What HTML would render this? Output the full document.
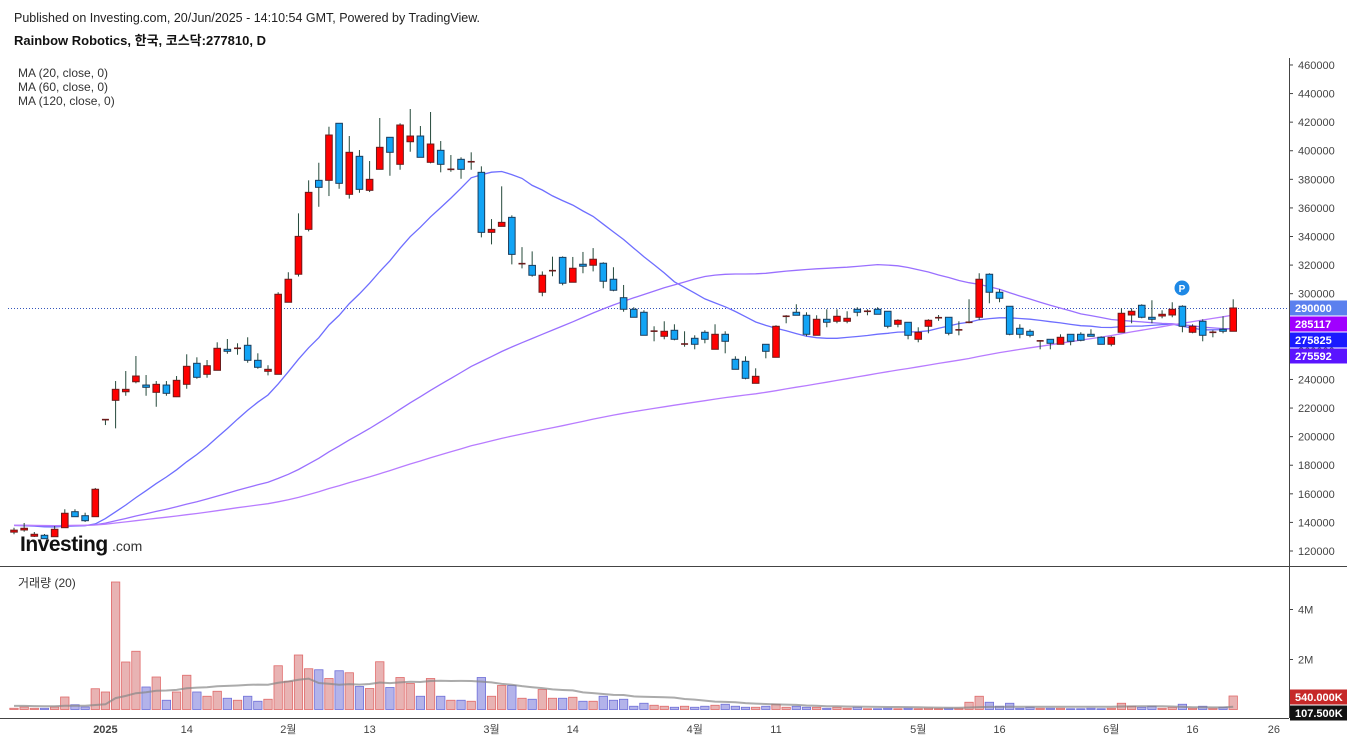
<!DOCTYPE html>
<html><head><meta charset="utf-8">
<style>
html,body{margin:0;padding:0;background:#fff;}
body{width:1355px;height:743px;overflow:hidden;font-family:"Liberation Sans","Noto Sans CJK KR",sans-serif;}
svg text{font-family:"Liberation Sans","Noto Sans CJK KR",sans-serif;}
</style></head>
<body>
<svg id="chart" width="1355" height="743" viewBox="0 0 1355 743" xmlns="http://www.w3.org/2000/svg">
  <text x="14" y="22" font-size="12.5" fill="#222">Published on Investing.com, 20/Jun/2025 - 14:10:54 GMT, Powered by TradingView.</text>
  <text x="14" y="45" font-size="13" font-weight="bold" fill="#111">Rainbow Robotics, 한국, 코스닥:277810, D</text>
  <text x="18" y="77" font-size="12" fill="#333">MA (20, close, 0)</text>
  <text x="18" y="91" font-size="12" fill="#333">MA (60, close, 0)</text>
  <text x="18" y="105" font-size="12" fill="#333">MA (120, close, 0)</text>
  <text x="18" y="587" font-size="12" fill="#333">거래량 (20)</text>
  <g>
    <text x="20" y="551" font-size="21" font-weight="bold" fill="#111" letter-spacing="-0.5">Investing</text>
    <text x="112" y="551" font-size="14" fill="#333">.com</text>
  </g>
  <line x1="0" y1="566.5" x2="1347" y2="566.5" stroke="#444" stroke-width="1"/>
  <line x1="0" y1="718.5" x2="1289" y2="718.5" stroke="#444" stroke-width="1"/>
  <line x1="1289.5" y1="58" x2="1289.5" y2="718" stroke="#444" stroke-width="1"/>
  <g id="grid"></g>
  <g id="vol"></g>
  <g id="mas"></g>
  <g id="candles"></g>
  <g id="axes"></g>
  <g id="badges"></g>
  <g>
    <circle cx="1182" cy="288" r="7.5" fill="#1e88e5"/>
    <text x="1182" y="292" font-size="10" font-weight="bold" fill="#fff" text-anchor="middle">P</text>
  </g>
</svg>
<script>
const opens=[133.2,134.7,130.3,131.0,130.0,136.3,147.5,144.7,144.0,211.2,225.4,231.4,238.4,236.1,231.0,236.1,227.9,236.6,251.3,243.6,246.4,261.1,261.5,263.9,253.4,245.7,243.6,294.0,313.6,345.0,379.3,379.3,419.2,369.5,396.1,372.3,387.0,409.4,390.5,406.3,410.3,391.9,400.3,386.8,394.0,392.1,384.9,342.9,347.1,353.4,320.8,319.8,301.0,315.9,325.4,308.0,320.6,319.9,321.3,310.1,297.2,289.1,287.0,273.6,270.2,274.4,264.6,268.8,273.0,261.1,271.6,254.1,252.7,237.3,264.6,255.5,284.0,287.0,284.9,270.9,282.1,280.7,280.7,289.1,287.6,289.1,287.7,278.6,280.0,268.1,277.2,283.0,283.5,274.5,279.8,283.5,313.6,301.0,291.2,275.8,273.7,266.8,268.1,264.6,271.6,271.6,271.6,269.5,264.6,273.0,285.1,291.9,283.5,284.4,285.1,291.2,273.0,280.7,272.8,275.1,273.7];
const highs=[136.3,139.6,133.3,131.9,137.5,149.2,149.2,146.8,164.1,212.0,238.9,245.9,256.4,243.1,238.9,238.9,242.4,257.6,255.5,253.6,266.0,268.3,265.3,269.5,258.3,249.9,301.0,315.0,356.2,379.3,391.6,416.8,419.2,410.3,400.5,392.8,422.9,409.4,419.2,429.2,417.3,427.1,406.8,397.0,395.4,398.9,389.1,352.2,375.1,354.8,332.6,329.6,315.6,325.9,326.1,325.7,329.2,331.9,322.0,318.5,306.1,290.5,288.4,277.2,280.7,278.6,273.7,270.9,274.4,278.6,273.7,256.2,256.2,247.8,264.6,277.9,285.0,292.6,287.0,284.9,289.1,289.1,287.7,290.5,289.1,290.5,287.7,282.1,280.0,276.5,282.1,285.1,283.5,280.7,296.1,314.3,314.3,303.1,291.2,278.6,275.1,267.6,268.1,271.6,271.6,273.0,275.1,270.2,270.2,289.8,289.8,292.6,295.4,288.4,294.0,291.9,278.6,282.1,274.4,284.2,296.1];
const lows=[131.7,133.5,129.8,128.4,129.8,136.1,143.8,140.3,143.8,208.1,205.8,228.6,237.3,228.6,220.9,228.6,227.7,233.5,240.5,241.2,246.4,258.0,257.3,251.7,247.5,242.9,243.6,294.0,312.0,343.6,360.8,368.3,373.4,366.5,370.6,371.1,387.0,382.5,386.7,399.3,395.4,391.2,384.9,385.3,380.4,386.7,339.4,334.5,347.1,320.5,317.7,311.9,298.2,312.2,305.9,308.0,314.3,315.6,303.8,301.7,287.4,283.5,270.9,266.7,268.1,267.4,262.9,261.1,265.3,261.1,258.3,247.1,240.1,237.3,254.8,255.5,279.3,284.9,270.2,270.9,276.5,279.3,279.3,284.2,284.9,285.6,275.8,276.5,268.1,266.0,272.3,281.0,270.9,270.9,279.3,281.6,293.3,294.0,270.9,268.8,269.5,261.1,261.1,264.6,263.9,266.7,270.2,264.6,263.2,273.0,279.3,282.8,279.3,282.8,283.5,273.0,272.3,266.7,269.5,272.3,273.7];
const closes=[134.6,135.9,131.7,128.6,135.2,146.4,144.0,141.2,163.2,211.9,233.1,233.1,242.4,234.5,236.6,230.3,239.4,249.2,241.5,249.6,261.8,259.7,261.8,253.4,248.5,247.1,299.6,310.1,340.1,370.9,374.4,411.0,377.2,398.9,373.0,380.0,402.4,398.9,418.0,410.3,395.4,404.7,390.5,387.0,387.0,392.3,342.9,345.0,349.9,327.5,321.0,312.9,312.9,316.1,307.3,317.8,319.2,324.1,308.7,302.4,289.1,283.5,270.9,273.8,273.7,268.1,264.8,264.6,268.1,271.6,266.7,247.1,240.8,242.2,259.7,277.2,284.2,284.9,271.6,282.1,280.0,284.2,282.8,287.0,287.7,285.6,277.2,281.4,270.9,273.0,281.4,283.2,272.3,274.7,280.0,310.1,301.0,296.8,271.6,271.6,270.9,267.0,265.3,269.5,266.7,267.4,270.2,264.6,269.5,286.3,287.7,283.5,282.1,285.6,289.1,277.2,277.2,270.9,273.0,273.7,290.0];
const volumes=[0.05,0.1,0.05,0.05,0.1,0.5,0.19,0.1,0.83,0.7,5.1,1.9,2.33,0.9,1.3,0.37,0.7,1.37,0.7,0.53,0.73,0.45,0.37,0.53,0.33,0.41,1.75,1.13,2.18,1.63,1.59,1.24,1.55,1.47,0.92,0.84,1.91,0.88,1.28,1.04,0.53,1.24,0.53,0.37,0.37,0.33,1.28,0.53,0.96,0.96,0.45,0.41,0.8,0.45,0.45,0.49,0.33,0.33,0.53,0.37,0.41,0.13,0.25,0.17,0.13,0.09,0.13,0.09,0.13,0.17,0.21,0.13,0.09,0.09,0.13,0.21,0.09,0.13,0.09,0.09,0.05,0.09,0.05,0.09,0.03,0.03,0.05,0.03,0.05,0.03,0.05,0.03,0.05,0.05,0.29,0.53,0.29,0.13,0.25,0.05,0.09,0.05,0.05,0.05,0.03,0.03,0.05,0.03,0.05,0.25,0.13,0.09,0.13,0.05,0.09,0.21,0.05,0.13,0.05,0.09,0.54];
const priorClose=138;   // price level (thousands) before the visible window
const priorVolume=0.15; // volume level (M) before the visible window
const priceTicks=[120000,140000,160000,180000,200000,220000,240000,260000,280000,300000,320000,340000,360000,380000,400000,420000,440000,460000];
const volTicks=[2,4];
const volTickLabels=['2M','4M'];
const dateIdx=[9,17,27,35,47,55,67,75,89,97,108,116,124];
const dateLabels=['2025','14','2월','13','3월','14','4월','11','5월','16','6월','16','26'];
const maPeriods=[20,60,120];

const NS='http://www.w3.org/2000/svg';
function mk(tag,attrs,parent){const e=document.createElementNS(NS,tag);for(const k in attrs)e.setAttribute(k,attrs[k]);parent.appendChild(e);return e;}
const xOf=i=>14+i*10.16;
const yP=p=>551-(p-120000)/20000*28.59;
const yV=v=>709.5-v*25;

const axes=document.getElementById('axes');
priceTicks.forEach(t=>{
  const y=yP(t);
  const tk=mk('line',{x1:1289,y1:y,x2:1293,y2:y,stroke:'#444'},axes);
  
  
  const tx=mk('text',{x:1298,y:y+4,'font-size':11,fill:'#444'},axes);
  
  
  tx.textContent=String(t);
});
volTicks.forEach((t,k)=>{
  const y=yV(t);
  mk('line',{x1:1289,y1:y,x2:1293,y2:y,stroke:'#444'},axes);
  const tx=mk('text',{x:1298,y:y+4,'font-size':11,fill:'#444'},axes);
  
  
  tx.textContent=volTickLabels[k];
});
dateIdx.forEach((i,k)=>{
  const tx=mk('text',{x:xOf(i),y:733,'font-size':11,fill:'#444','text-anchor':'middle','font-weight':k===0?'bold':'normal'},axes);
  
  
  tx.textContent=dateLabels[k];
});

// current price dotted line
const grid=document.getElementById('grid');
const last=closes[closes.length-1]*1000;
const pl=mk('line',{x1:8,y1:yP(last)+0.5,x2:1289,y2:yP(last)+0.5,stroke:'#3355bb','stroke-dasharray':'1,2','stroke-width':1},grid);



// moving averages
function ma(arr,n,pad){return arr.map((_,i)=>{let s=0;for(let k=i-n+1;k<=i;k++)s+=k<0?pad:arr[k];return s/n;});}
const maColors=['#6e6eff','#9a70ff','#b87cff'];
const maBadge=['#1a1aff','#5a14ff','#a000ff'];
const mas=document.getElementById('mas');
const maLast=[];
maPeriods.forEach((n,k)=>{
  const v=ma(closes,n,priorClose);
  maLast.push(v[v.length-1]);
  const pts=v.map((p,i)=>xOf(i).toFixed(1)+','+yP(p*1000).toFixed(1)).join(' ');
  const pl=mk('polyline',{points:pts,fill:'none',stroke:maColors[k],'stroke-width':1.3},mas);
  
  
});

// volume
const vol=document.getElementById('vol');
volumes.forEach((v,i)=>{
  const up=closes[i]>=opens[i];
  const r=mk('rect',{x:xOf(i)-4.2,y:yV(v),width:8.4,height:Math.max(0.5,709.5-yV(v)),fill:up?'#e8b3b3':'#b3b3ea',stroke:up?'#e06a6a':'#6e6ed8','stroke-width':0.8},vol);
  
  
});
const vma=ma(volumes,20,priorVolume);
const vpl=mk('polyline',{points:vma.map((p,i)=>xOf(i).toFixed(1)+','+yV(p).toFixed(1)).join(' '),fill:'none',stroke:'#888','stroke-opacity':0.7,'stroke-width':2},vol);



// candles
const cg=document.getElementById('candles');
opens.forEach((o,i)=>{
  const c=closes[i],h=highs[i],l=lows[i];
  const up=c>=o;
  const x=xOf(i);
  const g=mk('g',{},cg);
  
  
  mk('line',{x1:x,y1:yP(h*1000),x2:x,y2:yP(l*1000),stroke:'#24493a','stroke-width':1},g);
  const top=yP(Math.max(o,c)*1000),bot=yP(Math.min(o,c)*1000);
  const hgt=bot-top;
  if(hgt<1.5){
    mk('rect',{x:x-3.5,y:top-0.8,width:7,height:1.6,fill:up?'#6b1b1b':'#1c3550'},g);
  }else{
    mk('rect',{x:x-3.3,y:top,width:6.6,height:hgt,fill:up?'#ff0000':'#12a4f5',stroke:up?'#6b1b1b':'#1c3d5c','stroke-width':1},g);
  }
});

// badges
const bg=document.getElementById('badges');
function badge(val,y,color,name){
  const g=mk('g',{},bg);
  
  
  mk('rect',{x:1290,y:y-7.5,width:57,height:15,fill:color},g);
  const t=mk('text',{x:1295,y:y+4,'font-size':11,'font-weight':'bold',fill:'#fff'},g);
  t.textContent=val;
}
const items=[{v:last,c:'#5b80ee',n:'last-price-badge'}];
[2,1,0].forEach(k=>items.push({v:maLast[k]*1000,c:maBadge[k],n:'ma'+maPeriods[k]+'-badge'}));
items.sort((a,b)=>b.v-a.v);
let prevY=-100;
items.forEach(it=>{let y=yP(it.v);if(y<prevY+16)y=prevY+16;prevY=y;badge(String(Math.round(it.v)),y,it.c,it.n);});
badge((volumes[volumes.length-1]*1000).toFixed(3)+'K',697,'#c62828','volume-badge');
badge((vma[vma.length-1]*1000).toFixed(3)+'K',713,'#111','volume-ma-badge');
</script>
</body></html>
